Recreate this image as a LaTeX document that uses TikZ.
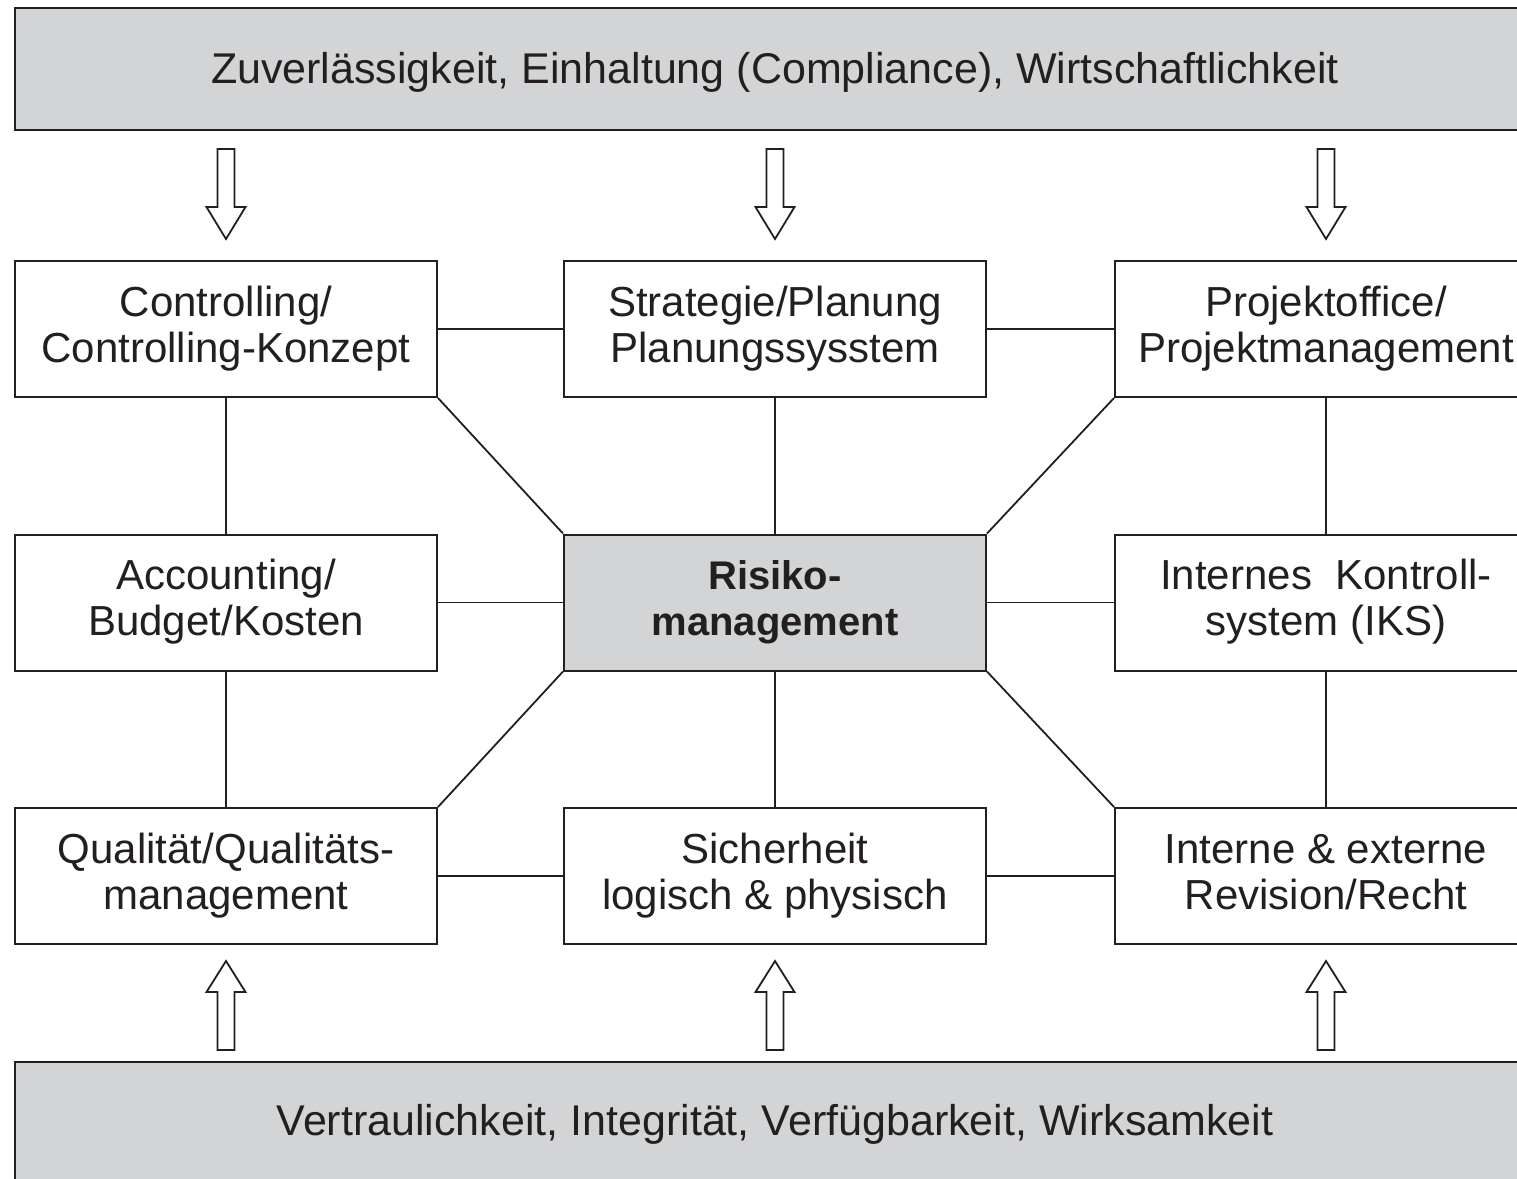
\documentclass[tikz,border=0pt]{standalone}
\usepackage{fontspec}
\setmainfont{Liberation Sans}
\definecolor{bannergray}{HTML}{D3D4D6}
\definecolor{ink}{HTML}{231F20}
\newcommand{\boxstrut}{\rule[-5pt]{0pt}{24pt}}
\newcommand{\lowstrut}{\rule[-4.5pt]{0pt}{26pt}}
\begin{document}
\begin{tikzpicture}[x=0.5pt,y=-0.5pt,
  every node/.style={font=\fontsize{21pt}{23pt}\selectfont, text=ink, align=center, inner sep=0pt},
  boxbase/.style={draw=ink, line width=1pt, fill=white, minimum width=211pt, minimum height=68pt},
  boxnode/.style={boxbase, execute at begin node=\boxstrut, execute at end node=\boxstrut},
  lowbox/.style={boxbase, execute at begin node=\lowstrut, execute at end node=\lowstrut},
  centernode/.style={boxnode, fill=bannergray, font=\fontsize{20pt}{23pt}\selectfont\bfseries},
  bannertext/.style={anchor=base, font=\fontsize{21.5pt}{23pt}\selectfont},
  banner/.style={draw=ink, line width=1pt, fill=bannergray},
  link/.style={draw=ink, line width=0.9pt},
  hollowarrow/.style={draw=ink, line width=0.9pt, fill=white, line join=miter},
  downarrow/.pic={\draw[hollowarrow] (-8.5,0) -- (8.5,0) -- (8.5,58) -- (19.5,58) -- (0,90) -- (-19.5,58) -- (-8.5,58) -- cycle;},
  uparrow/.pic={\draw[hollowarrow] (-8.5,0) -- (8.5,0) -- (8.5,-58) -- (19.5,-58) -- (0,-89) -- (-19.5,-58) -- (-8.5,-58) -- cycle;}
]
\useasboundingbox (0,0) rectangle (1517,1179);
\clip (0,0) rectangle (1517,1179);
\fill[white] (0,0) rectangle (1517,1179);

% banners
\draw[banner] (15,8) rectangle (1545,130);
\node[bannertext] (toptext) at (775,83) {Zuverlässigkeit, Einhaltung (Compliance), Wirtschaftlichkeit};
\draw[banner] (15,1062) rectangle (1545,1200);
\node[bannertext] (bottext) at (775,1135) {Vertraulichkeit, Integrität, Verfügbarkeit, Wirksamkeit};

% arrows
\pic at (226,149) {downarrow};
\pic at (775,149) {downarrow};
\pic at (1326,149) {downarrow};
\pic at (226,1050) {uparrow};
\pic at (775,1050) {uparrow};
\pic at (1326,1050) {uparrow};

% boxes
\node[boxnode] (ctrl) at (226,329) {Controlling/\\Controlling-Konzept};
\node[boxnode] (strat) at (775,329) {Strategie/Planung\\Planungssysstem};
\node[boxnode] (proj) at (1326,329) {Projektoffice/\\Projektmanagement};
\node[boxnode] (acc) at (226,602.5) {Accounting/\\Budget/Kosten};
\node[centernode] (risk) at (775,602.5) {Risiko-\\management};
\node[boxnode] (iks) at (1326,602.5) {Internes\ \ Kontroll-\\system (IKS)};
\node[lowbox] (qual) at (226,876) {Qualität/Qualitäts-\\management};
\node[lowbox] (sich) at (775,876) {Sicherheit\\logisch \& physisch};
\node[lowbox] (rev) at (1326,876) {Interne \& externe\\Revision/Recht};

% connectors
\draw[link] (ctrl) -- (strat);
\draw[link] (strat) -- (proj);
\draw[link] (acc) -- (risk);
\draw[link] (risk) -- (iks);
\draw[link] (qual) -- (sich);
\draw[link] (sich) -- (rev);
\draw[link] (ctrl) -- (acc);
\draw[link] (acc) -- (qual);
\draw[link] (strat) -- (risk);
\draw[link] (risk) -- (sich);
\draw[link] (proj) -- (iks);
\draw[link] (iks) -- (rev);
\draw[link] (ctrl.south east) -- (risk.north west);
\draw[link] (proj.south west) -- (risk.north east);
\draw[link] (risk.south west) -- (qual.north east);
\draw[link] (risk.south east) -- (rev.north west);
\end{tikzpicture}
\end{document}
